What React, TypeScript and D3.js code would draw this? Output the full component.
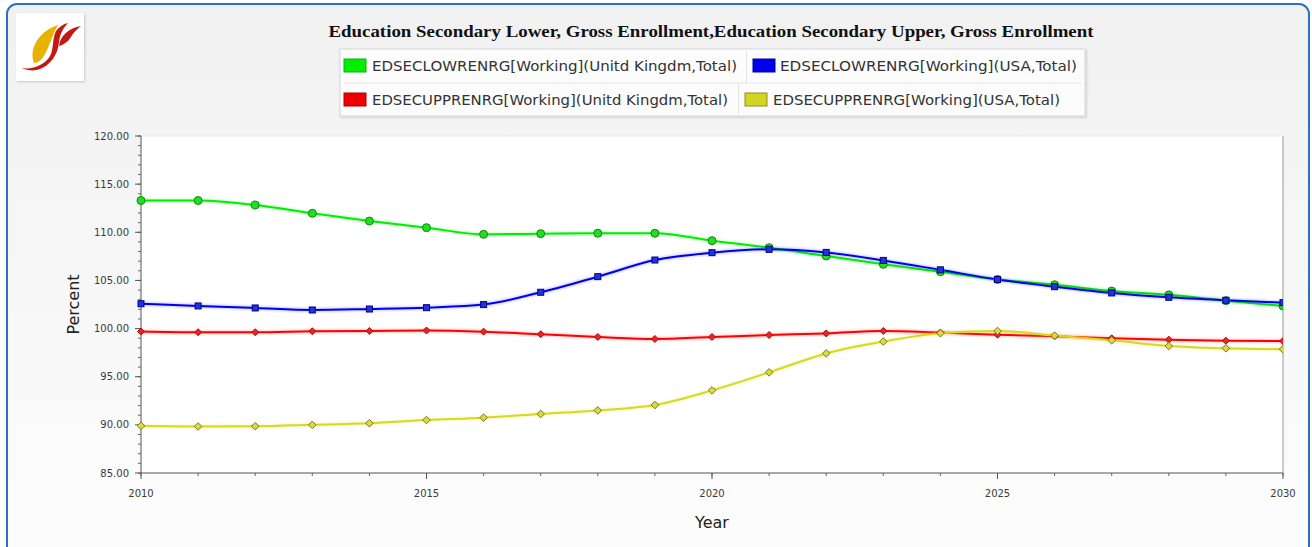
import React from "react";
import * as d3 from "d3";

const years = d3.range(2010, 2031);
const ukLower = [113.3, 113.3, 112.83, 111.97, 111.17, 110.48, 109.79, 109.86, 109.9, 109.9, 109.13, 108.4, 107.54, 106.67, 105.9, 105.1, 104.55, 103.9, 103.5, 102.9, 102.35];
const usaLower = [102.58, 102.35, 102.14, 101.93, 102.03, 102.17, 102.49, 103.77, 105.39, 107.12, 107.88, 108.23, 107.91, 107.08, 106.1, 105.1, 104.35, 103.7, 103.25, 102.94, 102.69];
const ukUpper = [99.7, 99.62, 99.62, 99.72, 99.75, 99.8, 99.68, 99.41, 99.13, 98.92, 99.13, 99.33, 99.5, 99.75, 99.58, 99.37, 99.2, 98.99, 98.85, 98.74, 98.7];
const usaUpper = [89.9, 89.83, 89.86, 90.0, 90.17, 90.5, 90.75, 91.13, 91.5, 92.06, 93.58, 95.45, 97.42, 98.65, 99.51, 99.75, 99.27, 98.78, 98.19, 97.95, 97.85];

const seriesNames = [
  "EDSECLOWRENRG[Working](Unitd Kingdm,Total)",
  "EDSECLOWRENRG[Working](USA,Total)",
  "EDSECUPPRENRG[Working](Unitd Kingdm,Total)",
  "EDSECUPPRENRG[Working](USA,Total)",
];
const title = "Education Secondary Lower, Gross Enrollment,Education Secondary Upper, Gross Enrollment";
const yTickLabels = ["85.00", "90.00", "95.00", "100.00", "105.00", "110.00", "115.00", "120.00"];
const xTickLabels = ["2010", "2015", "2020", "2025", "2030"];

const W = 1312;
const H = 547;
const plot = { left: 141, right: 1283, top: 136, bottom: 473 };

type Marker = "circle" | "square" | "diamond" | "diamondBig";
const styles: { line: string; fill: string; stroke: string; marker: Marker; swatch: string; swatchStroke: string }[] = [
  { line: "#00ee00", fill: "#22dd22", stroke: "#118811", marker: "circle", swatch: "#00ee00", swatchStroke: "#11aa11" },
  { line: "#0000ee", fill: "#2233dd", stroke: "#000088", marker: "square", swatch: "#0000ee", swatchStroke: "#000099" },
  { line: "#ff0000", fill: "#ee2222", stroke: "#aa1111", marker: "diamond", swatch: "#ee0000", swatchStroke: "#aa0000" },
  { line: "#d8d820", fill: "#d8d848", stroke: "#7d7d10", marker: "diamondBig", swatch: "#d4d422", swatchStroke: "#8f8f20" },
];

const allSeries = [ukLower, usaLower, ukUpper, usaUpper];

export default function App() {
  const x = d3.scaleLinear().domain([2010, 2030]).range([plot.left, plot.right]);
  const y = d3.scaleLinear().domain([85, 120]).range([plot.bottom, plot.top]);
  const line = d3
    .line<number>()
    .x((_, i) => x(years[i]))
    .y((d) => y(d))
    .curve(d3.curveMonotoneX);

  const yMinor = d3.range(85, 121, 1);
  const yMajor = yTickLabels.map(Number);
  const xMinor = years;
  const xMajor = xTickLabels.map(Number);

  const marker = (m: Marker, cx: number, cy: number, s: (typeof styles)[0], key: string) => {
    if (m === "circle") return <circle key={key} cx={cx} cy={cy} r={4} fill={s.fill} stroke={s.stroke} strokeWidth={1} />;
    if (m === "square") return <rect key={key} x={cx - 3} y={cy - 3} width={6} height={6} fill={s.fill} stroke={s.stroke} strokeWidth={1} />;
    const r = m === "diamondBig" ? 3.8 : 3.5;
    return (
      <path
        key={key}
        d={`M${cx},${cy - r}L${cx + r},${cy}L${cx},${cy + r}L${cx - r},${cy}Z`}
        fill={s.fill}
        stroke={s.stroke}
        strokeWidth={1}
      />
    );
  };

  const legendItems = [
    { sx: 344, sy: 59, tx: 372, tw: 365, ty: 66 },
    { sx: 753, sy: 59, tx: 780, tw: 297, ty: 66 },
    { sx: 344, sy: 93, tx: 372, tw: 356, ty: 100 },
    { sx: 745, sy: 93, tx: 773, tw: 287, ty: 100 },
  ];

  const sans = "Tahoma, 'DejaVu Sans', Verdana, sans-serif";

  return (
    <svg width={W} height={H} style={{ position: "absolute", left: 0, top: 0 }} xmlns="http://www.w3.org/2000/svg">
      <defs>
        <linearGradient id="bg" x1="0" y1="0" x2="0" y2="1">
          <stop offset="0" stopColor="#f1f1f1" />
          <stop offset="1" stopColor="#fdfdfd" />
        </linearGradient>
        <filter id="shadow" x="-10%" y="-10%" width="130%" height="140%">
          <feDropShadow dx="1" dy="1" stdDeviation="1.2" floodColor="#000" floodOpacity="0.18" />
        </filter>
        <filter id="glow" x="-5%" y="-20%" width="110%" height="140%">
          <feGaussianBlur stdDeviation="1" />
        </filter>
        <clipPath id="plotclip">
          <rect x={plot.left - 6} y={plot.top - 6} width={plot.right - plot.left + 6} height={plot.bottom - plot.top + 12} />
        </clipPath>
      </defs>
      <rect x={0} y={0} width={W} height={H} fill="#ffffff" />
      <rect x={7} y={4} width={1302} height={552} rx={10} ry={10} fill="url(#bg)" stroke="#2f6fc2" strokeWidth={2} />

      {/* logo */}
      <rect x={16} y={13} width={68} height={68} fill="#ffffff" filter="url(#shadow)" />
      <path d="M34,63 C29,50 37,32 58,25 C53,33 50,45 45,54 C42,60 38,63 34,63 Z" fill="#e6b400" />
      <path d="M22,68 C32,70 45,65 50,56 C54,49 52,39 56,31 C59,27 63,24 68,23 C63,28 60,34 59,42 C58,54 51,66 37,70 C31,71 26,70 22,68 Z" fill="#c21a12" />
      <path d="M59,46 C60,36 69,28 81,26 C77,29 73,33 71,37 C68,42 63,45 59,46 Z" fill="#c21a12" />

      {/* title */}
      <text x={711} y={37} textAnchor="middle" fontFamily="'Liberation Serif', 'Times New Roman', serif" fontWeight="bold" fontSize={16.5} fill="#111" textLength={765} lengthAdjust="spacingAndGlyphs">
        {title}
      </text>

      {/* legend */}
      <rect x={340} y={49} width={745} height={67} fill="#fcfcfc" stroke="#d8d8d8" strokeWidth={1} filter="url(#shadow)" />
      <line x1={344} x2={1081} y1={83} y2={83} stroke="#e4e4e4" />
      <line x1={746.5} x2={746.5} y1={51} y2={82} stroke="#e4e4e4" />
      <line x1={738.5} x2={738.5} y1={84} y2={114} stroke="#e4e4e4" />
      {legendItems.map((it, i) => (
        <g key={i}>
          <rect x={it.sx} y={it.sy} width={22} height={13} fill={styles[i].swatch} stroke={styles[i].swatchStroke} strokeWidth={1} />
          <text x={it.tx} y={it.ty} dy="0.36em" fontFamily={sans} fontSize={13.5} fill="#333" textLength={it.tw} lengthAdjust="spacingAndGlyphs">
            {seriesNames[i]}
          </text>
        </g>
      ))}

      {/* plot area */}
      <rect x={plot.left} y={plot.top} width={plot.right - plot.left} height={plot.bottom - plot.top} fill="#ffffff" />
      <line x1={plot.right} x2={plot.right} y1={plot.top} y2={plot.bottom} stroke="#b8b8b8" strokeWidth={1.5} />
      <line x1={plot.left} x2={plot.right} y1={plot.top} y2={plot.top} stroke="#e8e8e8" strokeWidth={1} />

      {/* y axis */}
      <line x1={plot.left} x2={plot.left} y1={plot.top} y2={plot.bottom} stroke="#555" strokeWidth={1} />
      {yMinor.map((v) => (
        <line key={"ym" + v} x1={plot.left - 3} x2={plot.left} y1={y(v)} y2={y(v)} stroke="#666" strokeWidth={1} />
      ))}
      {yMajor.map((v, i) => (
        <g key={"yM" + v}>
          <line x1={plot.left - 6} x2={plot.left} y1={y(v)} y2={y(v)} stroke="#555" strokeWidth={1} />
          <text x={plot.left - 12} y={y(v)} dy="0.36em" textAnchor="end" fontFamily={sans} fontSize={10} fill="#3a3a3a">
            {yTickLabels[i]}
          </text>
        </g>
      ))}

      {/* x axis */}
      <line x1={plot.left} x2={plot.right} y1={plot.bottom} y2={plot.bottom} stroke="#555" strokeWidth={1} />
      {xMinor.map((v) => (
        <line key={"xm" + v} x1={x(v)} x2={x(v)} y1={plot.bottom} y2={plot.bottom + 3} stroke="#666" strokeWidth={1} />
      ))}
      {xMajor.map((v, i) => (
        <g key={"xM" + v}>
          <line x1={x(v)} x2={x(v)} y1={plot.bottom} y2={plot.bottom + 6} stroke="#555" strokeWidth={1} />
          <text x={x(v)} y={plot.bottom + 20} dy="0.36em" textAnchor="middle" fontFamily={sans} fontSize={10} fill="#3a3a3a">
            {xTickLabels[i]}
          </text>
        </g>
      ))}

      {/* axis titles */}
      <text x={712} y={522} dy="0.36em" textAnchor="middle" fontFamily={sans} fontSize={16} fill="#222">
        Year
      </text>
      <text transform={`translate(73,${(plot.top + plot.bottom) / 2 + 0}) rotate(-90)`} dy="0.36em" textAnchor="middle" fontFamily={sans} fontSize={16} fill="#222">
        Percent
      </text>

      {/* series */}
      <g clipPath="url(#plotclip)">
        {allSeries.map((vals, si) => (
          <g key={"s" + si}>
            <path d={line(vals) || ""} fill="none" stroke={styles[si].line} strokeOpacity={0.2} strokeWidth={4} filter="url(#glow)" />
            <path d={line(vals) || ""} fill="none" stroke={styles[si].line} strokeWidth={2} />
          </g>
        ))}
        {allSeries.map((vals, si) => (
          <g key={"m" + si}>{vals.map((v, i) => marker(styles[si].marker, x(years[i]), y(v), styles[si], `${si}-${i}`))}</g>
        ))}
      </g>
    </svg>
  );
}
